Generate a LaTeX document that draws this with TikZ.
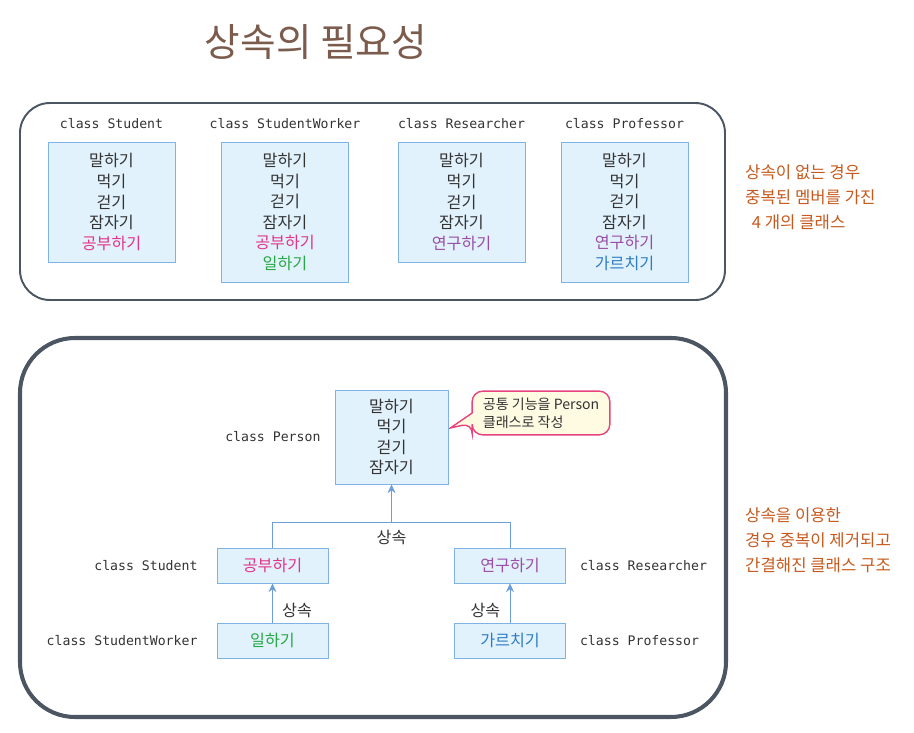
\documentclass[tikz,border=0pt]{standalone}
\usepackage{fontspec}
\setmainfont{Noto Sans CJK KR}
\setmonofont{DejaVu Sans Mono}
\usepackage{xcolor}
\usetikzlibrary{arrows.meta,positioning,calc,backgrounds}
\definecolor{titlec}{HTML}{7B5B4C}
\definecolor{framec}{HTML}{4B5662}
\definecolor{boxfill}{HTML}{E1F2FC}
\definecolor{boxline}{HTML}{80B3E5}
\definecolor{txt}{HTML}{333333}
\definecolor{memoc}{HTML}{C65A1E}
\definecolor{pinkc}{HTML}{E5338A}
\definecolor{greenc}{HTML}{27A844}
\definecolor{purplec}{HTML}{9A4DA6}
\definecolor{bluec}{HTML}{2E7CC4}
\definecolor{notefill}{HTML}{FFFBE3}
\definecolor{noteline}{HTML}{E8437E}
\definecolor{arrowc}{HTML}{6C9FD9}

\begin{document}
\begin{tikzpicture}[x=0.02cm,y=-0.02cm,>=Stealth,
  cls/.style={draw=boxline,fill=boxfill,align=center,text=txt,inner sep=0pt,
    font=\fontsize{9.2}{11.7}\selectfont},
  topbox/.style={cls,minimum width=2.54cm},
  subbox/.style={cls,minimum width=2.22cm,minimum height=0.7cm},
  lbl/.style={font=\ttfamily\fontsize{7.5}{9}\selectfont,text=txt},
  memo/.style={text=memoc,align=left,font=\fontsize{9.5}{14.2}\selectfont},
  frame/.style={draw=framec},
  inh/.style={draw=arrowc,-{Stealth[length=5pt,width=4.5pt]}},
  tree/.style={draw=arrowc},
  inhlbl/.style={text=txt,font=\fontsize{9.2}{10}\selectfont}]
\useasboundingbox (0,0) rectangle (914,733);

% title
\node[font=\fontsize{22}{26}\selectfont,text=titlec] (title) at (316,42) {상속의 필요성};

% without inheritance
\draw[frame,line width=1.1pt,rounded corners=0.6cm] (20,103) rectangle (725,300);
\node[topbox,minimum height=2.4cm] (st) at (111.5,202)
  {말하기\\먹기\\걷기\\잠자기\\\textcolor{pinkc}{공부하기}};
\node[topbox,minimum height=2.8cm] (sw) at (285,212)
  {말하기\\먹기\\걷기\\잠자기\\\textcolor{pinkc}{공부하기}\\\textcolor{greenc}{일하기}};
\node[topbox,minimum height=2.4cm] (rs) at (461.5,202)
  {말하기\\먹기\\걷기\\잠자기\\\textcolor{purplec}{연구하기}};
\node[topbox,minimum height=2.8cm] (pf) at (624.5,212)
  {말하기\\먹기\\걷기\\잠자기\\\textcolor{purplec}{연구하기}\\\textcolor{bluec}{가르치기}};
\node[lbl,above=4pt of st] (stl) {class Student};
\node[lbl,above=4pt of sw] (swl) {class StudentWorker};
\node[lbl,above=4pt of rs] (rsl) {class Researcher};
\node[lbl,above=4pt of pf] (pfl) {class Professor};
\node[memo,anchor=west] (memo1) at (739,197)
  {상속이 없는 경우\\중복된 멤버를 가진\\\hspace{0.4em}4 개의 클래스};

% with inheritance
\draw[frame,line width=2.3pt,rounded corners=1.1cm] (20,338) rectangle (726,717);
\node[cls,minimum width=2.26cm,minimum height=1.88cm] (person) at (391.5,437)
  {말하기\\먹기\\걷기\\잠자기};
\node[lbl,left=0.16cm of person] (personl) {class Person};

\node[text=txt,align=left,minimum width=2.74cm,minimum height=0.86cm,
  font=\fontsize{8}{10.2}\selectfont] (note) at (541,413)
  {공통 기능을 Person\\클래스로 작성};
\coordinate (tip) at ($(person.east)+(2,-9)$);
\begin{scope}[on background layer]
\draw[draw=noteline,fill=notefill,line width=0.8pt]
  (note.west) [rounded corners=6pt] -- (note.north west) -- (note.north east)
  -- (note.south east) -- (note.south west) -- ($(note.west)+(0,10)$)
  [sharp corners] -- (tip) -- cycle;
\end{scope}

\node[subbox] (stu) at (272.5,565.5) {\textcolor{pinkc}{공부하기}};
\node[subbox] (res) at (510,565.5) {\textcolor{purplec}{연구하기}};
\node[subbox] (wrk) at (272.5,640.5) {\textcolor{greenc}{일하기}};
\node[subbox] (prof) at (510,640.5) {\textcolor{bluec}{가르치기}};
\node[lbl,left=0.26cm of stu] (stul) {class Student};
\node[lbl,left=0.26cm of wrk] (wrkl) {class StudentWorker};
\node[lbl,right=0.16cm of res] (resl) {class Researcher};
\node[lbl,right=0.16cm of prof] (profl) {class Professor};

\coordinate (split) at ($(person.south)+(0,38)$);
\draw[tree] (stu.north) |- (split) -| (res.north);
\draw[inh] (split) -- (person.south);
\node[inhlbl,below=1pt] (inh0) at (split) {상속};
\draw[inh] (wrk) -- node[inhlbl,right=2pt,pos=0.3] (inh1) {상속} (stu);
\draw[inh] (prof) -- node[inhlbl,left=2pt,pos=0.3] (inh2) {상속} (res);

\node[memo,anchor=west] (memo2) at (739,540)
  {상속을 이용한\\경우 중복이 제거되고\\간결해진 클래스 구조};
\end{tikzpicture}
\end{document}
